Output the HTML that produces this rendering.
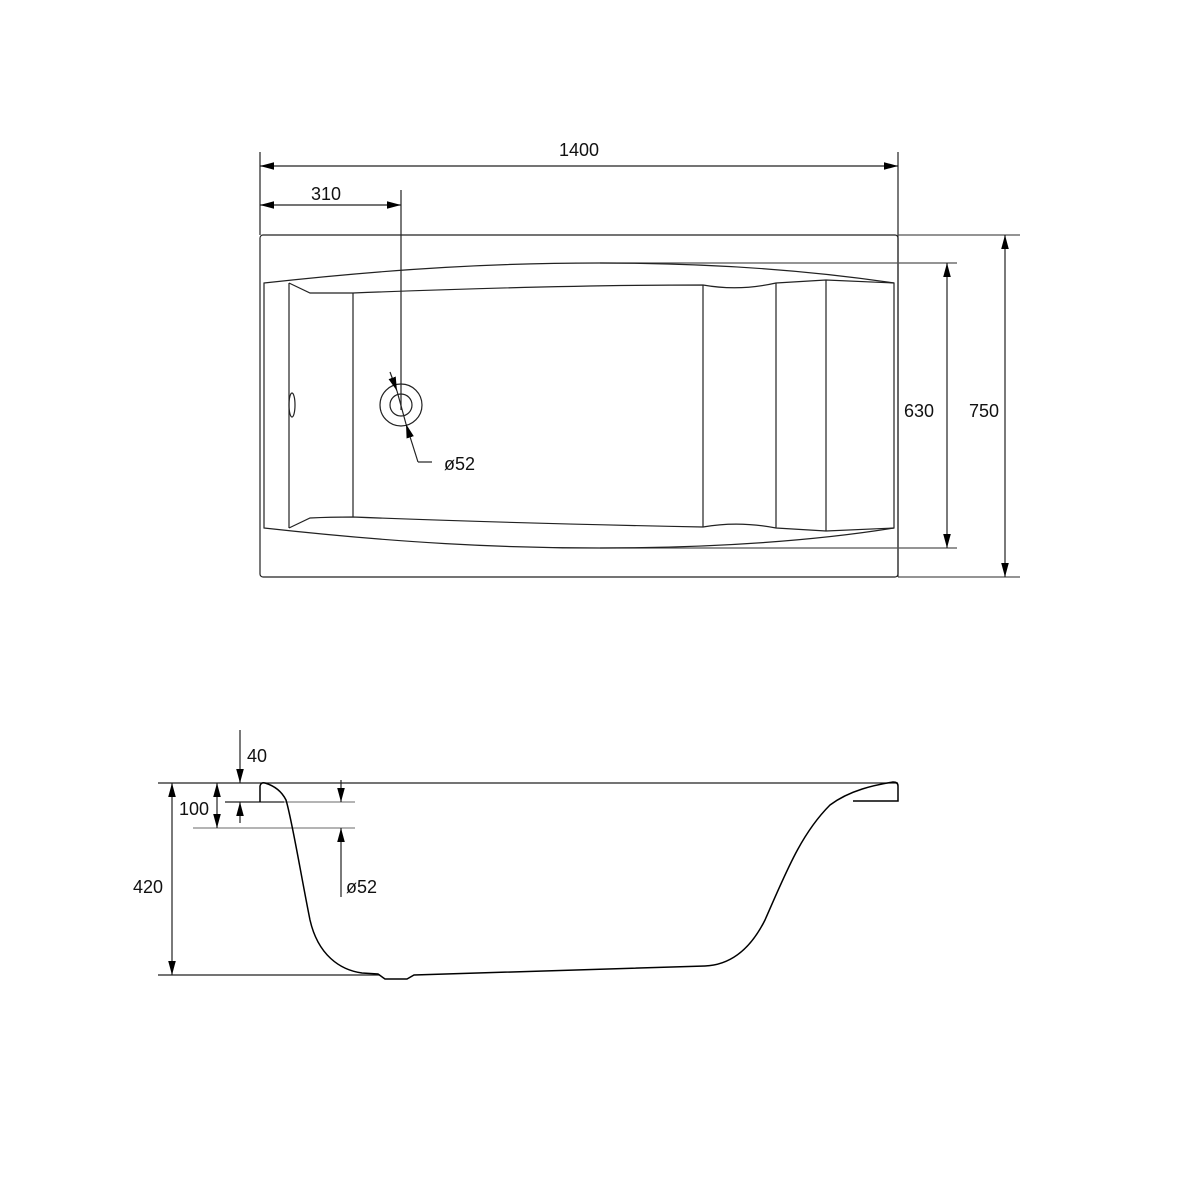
<!DOCTYPE html>
<html><head><meta charset="utf-8"><style>html,body{margin:0;padding:0;background:#fff}svg{display:block}text{font-family:"Liberation Sans",sans-serif;font-size:18px;fill:#111}</style></head>
<body>
<svg width="1200" height="1200" viewBox="0 0 1200 1200" xmlns="http://www.w3.org/2000/svg">
<defs>
<marker id="a" viewBox="0 0 14 14" refX="14" refY="7" markerWidth="14" markerHeight="14" markerUnits="userSpaceOnUse" orient="auto-start-reverse"><path d="M0,3.2 L14,7 L0,10.8z" fill="#000"/></marker>
</defs>
<g fill="none" stroke="#222" stroke-width="1.2">
<rect x="260" y="235" width="638" height="342" rx="3"/>
<line x1="260" y1="152" x2="260" y2="235"/>
<line x1="898" y1="152" x2="898" y2="577"/>
<line x1="898" y1="235" x2="1020" y2="235" stroke="#555"/>
<line x1="898" y1="577" x2="1020" y2="577" stroke="#555"/>
<line x1="600" y1="263" x2="957" y2="263" stroke="#555"/>
<line x1="600" y1="548" x2="957" y2="548" stroke="#555"/>
<line x1="260" y1="166" x2="898" y2="166" marker-start="url(#a)" marker-end="url(#a)"/>
<line x1="260" y1="205" x2="401" y2="205" marker-start="url(#a)" marker-end="url(#a)"/>
<line x1="401" y1="190" x2="401" y2="410"/>
<line x1="947" y1="263" x2="947" y2="548" marker-start="url(#a)" marker-end="url(#a)"/>
<line x1="1005" y1="235" x2="1005" y2="577" marker-start="url(#a)" marker-end="url(#a)"/>
<path d="M264,283 C400,268 500,263 600,263 C720,263 820,272 894,283 L894,528 C820,540 720,548 600,548 C500,548 400,543 264,528 Z"/>
<path d="M289,283 L310,293 C330,293 340,293 353,293 C480,288 600,285 703,285 C720,288 745,290 776,283 L826,280 L894,283"/>
<path d="M289,528 L310,518 C330,517 340,517 353,517 C480,522 600,525 703,527 C720,524 745,522 776,528 L826,531 L894,528"/>
<line x1="289" y1="283" x2="289" y2="528"/>
<line x1="353" y1="293" x2="353" y2="517"/>
<line x1="703" y1="285" x2="703" y2="527"/>
<line x1="776" y1="283" x2="776" y2="528"/>
<line x1="826" y1="280" x2="826" y2="531"/>
<ellipse cx="292" cy="405" rx="3" ry="12"/>
<circle cx="401" cy="405" r="21"/>
<circle cx="401" cy="405" r="11"/>
<line x1="390" y1="372" x2="397" y2="391" marker-end="url(#a)"/>
<line x1="418" y1="462" x2="406" y2="424" marker-end="url(#a)"/>
<polyline points="397,391 406,424"/>
<polyline points="418,462 432,462"/>
<line x1="158" y1="783" x2="898" y2="783"/>
<line x1="158" y1="975" x2="380" y2="975"/>
<line x1="225" y1="802" x2="284" y2="802"/>
<line x1="284" y1="802" x2="355" y2="802" stroke="#888"/>
<line x1="193" y1="828" x2="355" y2="828" stroke="#888"/>
<line x1="172" y1="783" x2="172" y2="975" marker-start="url(#a)" marker-end="url(#a)"/>
<line x1="217" y1="783" x2="217" y2="828" marker-start="url(#a)" marker-end="url(#a)"/>
<line x1="240" y1="730" x2="240" y2="783" marker-end="url(#a)"/>
<line x1="240" y1="823" x2="240" y2="802" marker-end="url(#a)"/>
<line x1="341" y1="780" x2="341" y2="802" marker-end="url(#a)"/>
<line x1="341" y1="897" x2="341" y2="828" marker-end="url(#a)"/>
<path d="M260,802 L260,786 Q261,782 265,783 C275,786 282,792 286,800 C292,820 300,870 310,920 C318,955 340,970 362,973 L378,974 L385,979 L407,979 L414,975 L705,966 C730,965 750,950 765,920 C785,875 800,835 830,805 C850,790 875,785 893,782 Q898,782 898,786 L898,801 L853,801" stroke="#000" stroke-width="1.5"/>
</g>
<text x="559" y="156">1400</text>
<text x="311" y="200">310</text>
<text x="904" y="417">630</text>
<text x="969" y="417">750</text>
<text x="444" y="470">ø52</text>
<text x="247" y="762">40</text>
<text x="179" y="815">100</text>
<text x="133" y="893">420</text>
<text x="346" y="893">ø52</text>
</svg>
</body></html>
